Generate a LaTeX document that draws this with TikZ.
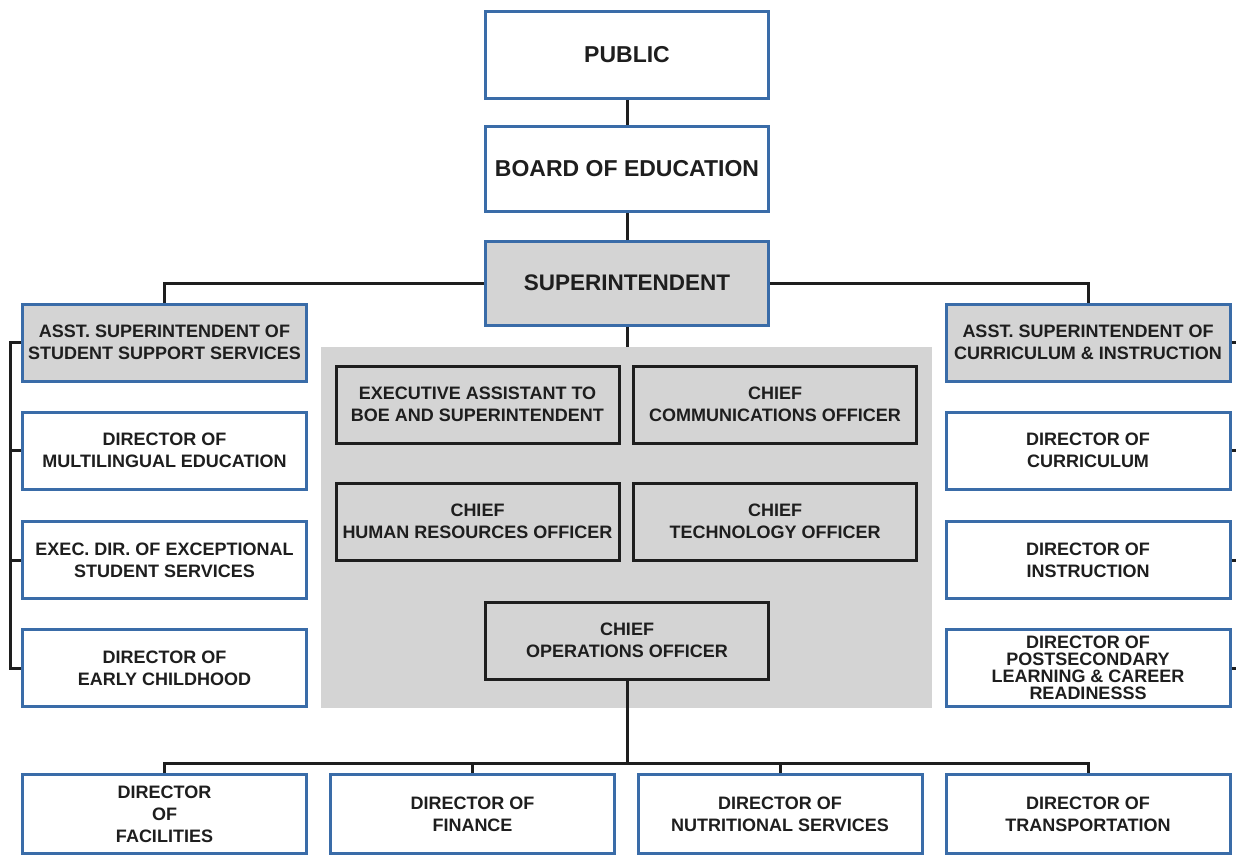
\documentclass[tikz,border=0pt]{standalone}
\usepackage{fontspec}
\setmainfont{Liberation Sans}
\definecolor{boxblue}{RGB}{58,108,168}
\definecolor{boxgray}{RGB}{212,212,212}
\definecolor{inkblack}{RGB}{30,30,30}
\tikzset{
    bluebox/.style={draw=boxblue,line width=3pt,fill=white,inner sep=0pt,
        minimum width=284pt,minimum height=77pt,align=center,text=inkblack,
        font=\bfseries\fontsize{18}{22}\selectfont},
    topbox/.style={bluebox,minimum width=283pt,
        font=\bfseries\fontsize{23}{26}\selectfont},
    greybox/.style={fill=boxgray},
    innerbox/.style={draw=inkblack,line width=3pt,fill=boxgray,inner sep=0pt,
        minimum width=283pt,minimum height=77pt,align=center,text=inkblack,
        font=\bfseries\fontsize{18}{21.5}\selectfont},
    link/.style={draw=inkblack,line width=3pt}
}
\begin{document}
\begin{tikzpicture}[x=1pt,y=-1pt]
    \clip (0,0) rectangle (1236,855);
    % top of the chart
    \node[topbox,minimum height=87pt] (public) at (627,55) {PUBLIC};
    \node[topbox,minimum height=85pt] (board) at (627,169) {BOARD OF EDUCATION};
    \node[topbox,greybox,minimum height=84pt,font=\bfseries\fontsize{22.5}{26}\selectfont] (supt) at (627,283) {SUPERINTENDENT};
    % left column
    \node[bluebox,greybox] (asstsss) at (164.5,342.5) {ASST. SUPERINTENDENT OF\\STUDENT SUPPORT SERVICES};
    \node[bluebox] (multiling) at (164.5,450.5) {DIRECTOR OF\\MULTILINGUAL EDUCATION};
    \node[bluebox] (exceptional) at (164.5,560) {EXEC. DIR. OF EXCEPTIONAL\\STUDENT SERVICES};
    \node[bluebox] (earlychild) at (164.5,668) {DIRECTOR OF\\EARLY CHILDHOOD};
    % right column
    \node[bluebox,greybox] (asstci) at (1088,342.5) {ASST. SUPERINTENDENT OF\\CURRICULUM \& INSTRUCTION};
    \node[bluebox] (curric) at (1088,450.5) {DIRECTOR OF\\CURRICULUM};
    \node[bluebox] (instruct) at (1088,560) {DIRECTOR OF\\INSTRUCTION};
    \node[bluebox,font=\bfseries\fontsize{18}{17}\selectfont] (postsec) at (1088,668) {DIRECTOR OF\\POSTSECONDARY\\LEARNING \& CAREER\\READINESSS};
    % staff panel
    \node[fill=boxgray,minimum width=611pt,minimum height=361pt,inner sep=0pt] (staff) at (626.5,527.5) {};
    \node[innerbox] (execasst) at (477.5,404.5) {EXECUTIVE ASSISTANT TO\\BOE AND SUPERINTENDENT};
    \node[innerbox] (comms) at (775,404.5) {CHIEF\\COMMUNICATIONS OFFICER};
    \node[innerbox] (hr) at (477.5,521.5) {CHIEF\\HUMAN RESOURCES OFFICER};
    \node[innerbox] (tech) at (775,521.5) {CHIEF\\TECHNOLOGY OFFICER};
    \node[innerbox] (coo) at (627,640.5) {CHIEF\\OPERATIONS OFFICER};
    % bottom row
    \node[bluebox,minimum height=79pt] (facil) at (164.5,814) {DIRECTOR\\OF\\FACILITIES};
    \node[bluebox,minimum height=79pt] (finance) at (472.5,814) {DIRECTOR OF\\FINANCE};
    \node[bluebox,minimum height=79pt] (nutrition) at (780,814) {DIRECTOR OF\\NUTRITIONAL SERVICES};
    \node[bluebox,minimum height=79pt] (transport) at (1088,814) {DIRECTOR OF\\TRANSPORTATION};
    % connectors
    \coordinate (lbar) at (10,0);
    \coordinate (rbar) at (1246,0);
    \coordinate (bus) at (0,763);
    \draw[link] (public) -- (board);
    \draw[link] (board) -- (supt);
    \draw[link] (supt.south) -- (supt.south |- staff.north);
    \draw[link] (supt.west) -| (asstsss.north);
    \draw[link] (supt.east) -| (asstci.north);
    \draw[link] (asstsss.west) -- (asstsss.west -| lbar) -- (earlychild.west -| lbar) -- (earlychild.west);
    \draw[link] (multiling.west -| lbar) -- (multiling.west);
    \draw[link] (exceptional.west -| lbar) -- (exceptional.west);
    \draw[link] (asstci.east) -- (asstci.east -| rbar) -- (postsec.east -| rbar) -- (postsec.east);
    \draw[link] (curric.east -| rbar) -- (curric.east);
    \draw[link] (instruct.east -| rbar) -- (instruct.east);
    \draw[link] (coo.south) -- (coo.south |- bus);
    \draw[link] (facil.north) -- (facil.north |- bus) -- (transport.north |- bus) -- (transport.north);
    \draw[link] (finance.north |- bus) -- (finance.north);
    \draw[link] (nutrition.north |- bus) -- (nutrition.north);
\end{tikzpicture}
\end{document}
